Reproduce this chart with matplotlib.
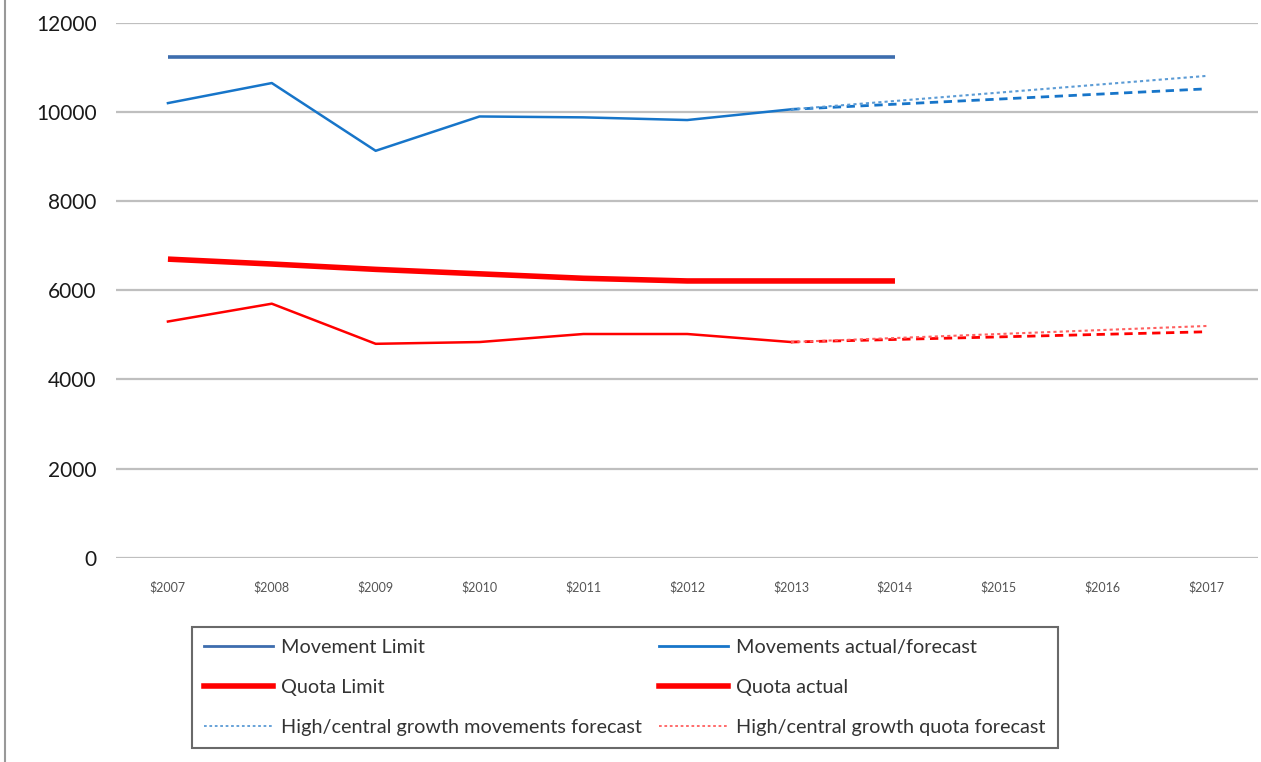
import matplotlib.pyplot as plt
from matplotlib.lines import Line2D

plt.rcParams['font.family'] = ['Lato', 'DejaVu Sans']

# data
years = ['$2007', '$2008', '$2009', '$2010', '$2011', '$2012',
         '$2013', '$2014', '$2015', '$2016', '$2017']
movement_limit = [11240, 11240, 11240, 11240, 11240, 11240, 11240, 11240]
movements_actual = [10200, 10650, 9130, 9900, 9880, 9820, 10060]
quota_limit = [6700, 6590, 6470, 6370, 6270, 6210, 6210, 6210]
quota_actual = [5300, 5700, 4800, 4840, 5020, 5020, 4840]
# forecasts run from 2013 to 2017 (first and last point)
mov_central = [10060, 10520]
mov_high = [10060, 10810]
quota_central = [4840, 5070]
quota_high = [4840, 5200]

c_limit = '#3D6DAE'
c_mov = '#1775C9'
c_red = '#FF0000'

fig = plt.figure(figsize=(12.61, 7.62), dpi=100)
ax = fig.add_axes([0.092, 0.268, 0.906, 0.702])

x = list(range(len(years)))
ax.plot(x[:8], movement_limit, color=c_limit, lw=2.6, solid_capstyle='butt')
ax.plot(x[:7], movements_actual, color=c_mov, lw=1.8)
ax.plot([x[6], x[10]], mov_central, color=c_mov, lw=2.0, ls=(0, (3, 2)))
ax.plot([x[6], x[10]], mov_high, color='#5B9BD5', lw=1.5, ls=(0, (1.5, 1.5)))

ax.plot(x[:8], quota_limit, color=c_red, lw=4.0, solid_capstyle='butt')
ax.plot(x[:7], quota_actual, color=c_red, lw=1.8)
ax.plot([x[6], x[10]], quota_central, color=c_red, lw=2.0, ls=(0, (3, 2)))
ax.plot([x[6], x[10]], quota_high, color='#FF6060', lw=1.5, ls=(0, (1.5, 1.5)))

ax.set_xlim(-0.5, 10.5)
ax.set_ylim(0, 12000)
ax.set_yticks(range(0, 12001, 2000))
ax.set_yticklabels([str(v) for v in range(0, 12001, 2000)], fontsize=15,
                   color='#1a1a1a')
ax.set_xticks(x)
ax.set_xticklabels(years, fontsize=9, color='#555555')
ax.tick_params(axis='both', length=0)
ax.tick_params(axis='y', pad=14)
ax.tick_params(axis='x', pad=17)
ax.grid(axis='y', color='#BFBFBF', lw=1.6)
ax.set_axisbelow(True)
for s in ax.spines.values():
    s.set_visible(False)

handles = [
    Line2D([], [], color=c_limit, lw=2),
    Line2D([], [], color=c_red, lw=4),
    Line2D([], [], color='#5B9BD5', lw=1.3, ls=(0, (1.5, 1.5))),
    Line2D([], [], color=c_mov, lw=2),
    Line2D([], [], color=c_red, lw=4),
    Line2D([], [], color='#FF6060', lw=1.3, ls=(0, (1.5, 1.5))),
]
labels = ['Movement Limit', 'Quota Limit', 'High/central growth movements forecast',
          'Movements actual/forecast', 'Quota actual',
          'High/central growth quota forecast']
leg = fig.legend(handles, labels, ncol=2, loc='upper left',
                 bbox_to_anchor=(0.152, 1 - 627 / 762), borderaxespad=0,
                 fontsize=14.3, frameon=True, fancybox=False, handlelength=3.5,
                 handletextpad=0.4, labelspacing=1.15, borderpad=0.6,
                 columnspacing=0.85, labelcolor='#333333')
leg.get_frame().set_edgecolor('#444444')
leg.get_frame().set_linewidth(1.5)

# left border of the chart area
fig.add_artist(Line2D([0.004, 0.004], [0, 1], color='#999999', lw=1.5,
                      transform=fig.transFigure))

fig.savefig('out.png', dpi=100)
